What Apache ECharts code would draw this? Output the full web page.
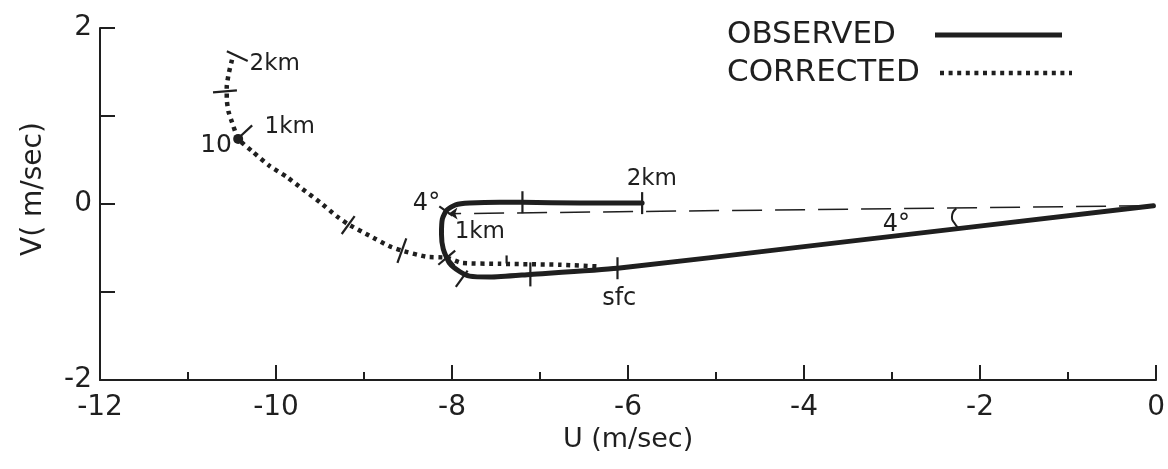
<!DOCTYPE html>
<html>
<head>
<meta charset="utf-8">
<script src="https://cdn.jsdelivr.net/npm/echarts@6/dist/echarts.min.js"></script>
<style>
html,body{margin:0;padding:0;background:#fff;}
#c{width:1168px;height:469px;}
</style>
</head>
<body>
<div id="c"></div>
<script>
// ---- data ----
var xTicks = [-12, -10, -8, -6, -4, -2, 0];
var yTicks = [-2, 0, 2];
var seriesNames = ['OBSERVED', 'CORRECTED'];

// Observed hodograph: origin end -> sfc -> 1 km -> 2 km
var obsU = [-0.03, -4.05, -6.12, -7.11, -7.57, -7.80, -7.91, -8.03, -8.10, -8.12, -8.11, -8.06, -7.96, -7.80, -7.46, -7.20, -6.55, -5.84];
var obsV = [-0.02, -0.49, -0.73, -0.80, -0.83, -0.82, -0.77, -0.67, -0.51, -0.34, -0.17, -0.07, -0.01, 0.01, 0.02, 0.02, 0.01, 0.01];

// Corrected hodograph: 2 km -> 1 km -> ... -> joins observed
var corU = [-10.50, -10.54, -10.56, -10.56, -10.54, -10.50, -10.43, -10.26, -10.07, -9.88, -9.70, -9.50, -9.31, -9.18, -8.94, -8.71, -8.57, -8.29, -8.06, -7.89, -7.46, -6.78, -6.32];
var corV = [1.64, 1.47, 1.33, 1.19, 1.05, 0.93, 0.74, 0.59, 0.43, 0.31, 0.17, 0.02, -0.14, -0.23, -0.36, -0.48, -0.53, -0.60, -0.61, -0.67, -0.68, -0.69, -0.71];

// Reference (dashed) line from origin to the observed 1 km point
var refU = [-0.08, -8.04];
var refV = [-0.02, -0.11];

// Angle arc between dashed line and observed line
var arcU = [-2.27, -2.32, -2.29, -2.25];
var arcV = [-0.05, -0.15, -0.22, -0.27];

// Height tick marks on the curves
var tickU = [-5.84, -7.20, -8.07, -8.04, -7.89, -7.11, -6.12, -10.44, -10.58, -10.35, -9.18, -8.57, -8.06, -7.38];
var tickV = [0.01, 0.02, -0.08, -0.62, -0.85, -0.80, -0.73, 1.68, 1.28, 0.82, -0.24, -0.53, -0.61, -0.63];

// The "10" marker point
var markU = [-10.43];
var markV = [0.74];

// Text annotations
var annText = ['2km', '1km', '10', '2km', '4°', '1km', 'sfc', '4°'];
var annU = [-10.30, -10.13, -10.50, -5.73, -8.29, -7.97, -6.10, -2.95];
var annV = [1.59, 0.88, 0.66, 0.28, 0.00, -0.32, -1.08, -0.24];

// ---- styles (not data) ----
var tickAngle = [90, 90, -35, -50, 54, 90, 90, -25, 5, 43, 54, 70, 40, 90];
var tickLen = [22, 22, 16, 18, 20, 24, 22, 23, 24, 19, 22, 26, 22, 8];
var annAlign = ['left', 'left', 'right', 'center', 'center', 'left', 'center', 'center'];
var annSize = [23, 23, 25, 23, 24, 23, 24, 24];

var INK = '#1f1f1f';
var FONT = 'DejaVu Sans';
var DOTS = [4, 4.6];

function zip(a, b) { return a.map(function (v, i) { return [v, b[i]]; }); }

var chart = echarts.init(document.getElementById('c'), null, { renderer: 'canvas' });

var tickData = tickU.map(function (u, i) { return [u, tickV[i], i]; });
var annData = annText.map(function (t, i) {
  return {
    name: t,
    value: [annU[i], annV[i]],
    label: { align: annAlign[i], fontSize: annSize[i] }
  };
});

var option = {
  backgroundColor: '#fff',
  animation: false,
  grid: { left: 100, right: 11, top: 28, bottom: 89, containLabel: false },
  graphic: [
    { type: 'text', left: 727, top: 19, style: { text: seriesNames[0], fontSize: 31, fontFamily: FONT, fill: INK } },
    { type: 'line', shape: { x1: 935, y1: 35, x2: 1062, y2: 35 }, style: { stroke: INK, lineWidth: 5 } },
    { type: 'text', left: 727, top: 57, style: { text: seriesNames[1], fontSize: 31, fontFamily: FONT, fill: INK } },
    { type: 'line', shape: { x1: 940, y1: 73, x2: 1072, y2: 73 }, style: { stroke: INK, lineWidth: 4.5, lineDash: DOTS } }
  ],
  xAxis: {
    type: 'value', min: -12, max: 0, interval: 2,
    name: 'U (m/sec)', nameLocation: 'middle', nameGap: 44,
    nameTextStyle: { fontSize: 27, fontFamily: FONT, color: INK },
    axisLine: { show: true, onZero: false, lineStyle: { color: INK, width: 2 } },
    axisTick: { show: true, inside: true, length: 15, lineStyle: { color: INK, width: 2 } },
    minorTick: { show: true, splitNumber: 2, length: 8, lineStyle: { color: INK, width: 2 } },
    splitLine: { show: false },
    axisLabel: {
      margin: 14, fontSize: 28, fontFamily: FONT, color: INK,
      formatter: function (v) { return xTicks.indexOf(v) >= 0 ? String(v) : ''; }
    }
  },
  yAxis: {
    type: 'value', min: -2, max: 2, interval: 1,
    name: 'V( m/sec)', nameLocation: 'middle', nameGap: 52,
    nameTextStyle: { fontSize: 28, fontFamily: FONT, color: INK, padding: [0, 0, 0, 30] },
    axisLine: { show: true, onZero: false, lineStyle: { color: INK, width: 2 } },
    axisTick: { show: true, inside: true, length: 15, lineStyle: { color: INK, width: 2 } },
    splitLine: { show: false },
    axisLabel: {
      margin: 8, fontSize: 28, fontFamily: FONT, color: INK,
      formatter: function (v) { return yTicks.indexOf(v) >= 0 ? String(v) : ''; }
    }
  },
  series: [
    {
      name: seriesNames[0], type: 'line', data: zip(obsU, obsV),
      symbol: 'none', smooth: 0.2, z: 3,
      lineStyle: { color: INK, width: 5, cap: 'round', join: 'round' },
      itemStyle: { color: INK }
    },
    {
      name: seriesNames[1], type: 'line', data: zip(corU, corV),
      symbol: 'none', smooth: 0.15, z: 2,
      lineStyle: { color: INK, width: 4.5, type: DOTS, cap: 'butt' },
      itemStyle: { color: INK }
    },
    {
      type: 'lines', coordinateSystem: 'cartesian2d', z: 2,
      symbol: ['none', 'arrow'], symbolSize: 9,
      lineStyle: { color: INK, width: 1.5, type: [30, 13], opacity: 1 },
      data: [{ coords: zip(refU, refV) }]
    },
    {
      type: 'line', data: zip(arcU, arcV), symbol: 'none', smooth: 0.6,
      lineStyle: { color: INK, width: 2 }, z: 3
    },
    {
      type: 'custom', z: 4,
      encode: { x: 0, y: 1 },
      data: tickData,
      renderItem: function (params, api) {
        var i = api.value(2);
        var p = api.coord([api.value(0), api.value(1)]);
        var a = tickAngle[i] * Math.PI / 180, L = tickLen[i] / 2;
        var dx = Math.cos(a) * L, dy = -Math.sin(a) * L;
        return {
          type: 'line',
          shape: { x1: p[0] - dx, y1: p[1] - dy, x2: p[0] + dx, y2: p[1] + dy },
          style: { stroke: INK, lineWidth: 2.2 }
        };
      }
    },
    {
      type: 'scatter', data: zip(markU, markV), symbol: 'circle', symbolSize: 10,
      itemStyle: { color: INK, opacity: 1 }, z: 5
    },
    {
      type: 'scatter', data: annData, symbolSize: 1, z: 6,
      itemStyle: { color: 'rgba(0,0,0,0)', opacity: 1 },
      label: {
        show: true, position: 'inside', color: INK, fontFamily: FONT,
        verticalAlign: 'middle', opacity: 1,
        formatter: function (p) { return p.name; }
      },
      emphasis: { disabled: true }
    }
  ]
};
chart.setOption(option);
</script>
</body>
</html>
